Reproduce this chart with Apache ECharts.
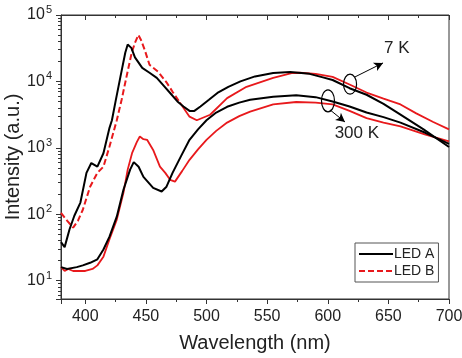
<!DOCTYPE html>
<html>
<head>
<meta charset="utf-8">
<script src="https://cdn.jsdelivr.net/npm/echarts@6/dist/echarts.min.js"></script>
<style>
  html, body { margin: 0; padding: 0; background: #fff; }
  #chart { width: 462px; height: 358px; }
</style>
</head>
<body>
<div id="chart"></div>
<script>
// [wavelength (nm), intensity (a.u.)]
const ledA7K = [
  [380, 38], [383, 32], [387, 59], [391, 95], [396, 150], [401, 420], [405, 590], [410, 520],
  [415, 830], [420, 2000], [422, 2600], [425, 5000], [429, 11700], [433, 27000], [435, 36000],
  [438, 32000], [441, 23000], [447, 16000], [453, 13500], [459, 11300], [465, 8500], [470, 6700],
  [476, 5000], [481, 4200], [486, 3600], [490, 3600], [495, 4200], [502, 5300], [509, 6700],
  [518, 8300], [528, 10000], [540, 11900], [555, 13400], [569, 13900], [585, 13000], [596, 11500],
  [604, 10500], [618, 7900], [632, 6300], [646, 4600], [660, 3160], [679, 1900], [700, 1030]
];
const ledA300K = [
  [380, 16], [385, 15], [393, 16], [398, 17], [404, 18.6], [410, 21], [415, 29.5], [420, 46],
  [426, 92], [431.5, 234], [437, 470], [440, 610], [444, 520], [448, 365], [456, 250], [463, 220],
  [467, 260], [472, 420], [479, 750], [486, 1320], [493, 1900], [500, 2600], [508, 3400],
  [517, 4150], [527, 4800], [536, 5300], [555, 5900], [574, 6200], [590, 5800], [604, 5000],
  [618, 4200], [632, 3400], [646, 2900], [660, 2400], [680, 1700], [700, 1150]
];
const ledB7K = [
  [380, 105], [385, 80], [390, 63], [394, 80], [398, 117], [404, 260], [410, 420], [415, 520],
  [420, 1050], [426, 2600], [430, 5300], [434, 11700], [438.3, 27000], [441, 38000], [443.8, 50000],
  [446, 42000], [449, 30000], [453, 17800], [460, 14000], [467, 9700], [472, 7000], [478, 4800]
];
const ledB7KTail = [
  [478, 4800], [486, 2950], [492, 2600], [503, 3150], [517, 5600], [533, 8300], [555, 11300],
  [571, 13400], [577, 13500], [590, 13000], [604, 11700], [618, 9000], [632, 6800], [646, 5500],
  [660, 4500], [673, 3300], [687, 2450], [700, 1900]
];
const ledB300K = [
  [380, 16], [383, 14], [386, 15], [390, 14], [395, 14], [400, 14], [406, 15], [410, 17],
  [415, 23], [420, 42], [426, 83], [431.5, 210], [435, 470], [438.6, 830], [442.6, 1230],
  [445, 1480], [448, 1350], [451, 1320], [456, 930], [461.6, 520], [466, 420], [470, 330],
  [474, 310], [480, 450], [486, 660], [493, 950], [500, 1320], [508, 1800], [517, 2400],
  [527, 3000], [536, 3500], [555, 4500], [574, 4900], [590, 4800], [604, 4500], [618, 3600],
  [632, 2800], [646, 2400], [660, 2100], [680, 1600], [700, 1250]
];
const legendNames = ['LED A', 'LED B'];

// annotation anchors in data coordinates
const ring7K = [618.4, 9100];
const arrow7K = [[622.5, 11700], [645.6, 19000]];
const text7K = [657, 31900];
const ring300K = [600.2, 5100];
const arrow300K = [[601.9, 3730], [614.2, 2450]];
const text300K = [624, 1680];

const FONT = 'Liberation Sans, Arial, sans-serif';
const BLACK = '#000000';
const RED = '#e8191c';

const chart = echarts.init(document.getElementById('chart'));

function powLabel(v) {
  const e = Math.log10(v);
  if (Math.abs(e - Math.round(e)) > 1e-6 || Math.round(e) < 1) return '';
  return '10{sup|' + Math.round(e) + '}';
}

const option = {
  animation: false,
  backgroundColor: '#ffffff',
  grid: {
    left: 61, right: 13, top: 15, bottom: 59,
    outerBoundsMode: 'none', containLabel: false,
    show: true, borderColor: '#333', borderWidth: 1
  },
  legend: {
    data: legendNames,
    orient: 'vertical',
    left: 355, top: 243,
    itemWidth: 34, itemHeight: 12, itemGap: 3,
    padding: [4, 4, 4, 3],
    borderColor: '#555', borderWidth: 1, borderRadius: 0,
    itemStyle: { opacity: 0, borderWidth: 0 },
    textStyle: { fontFamily: FONT, fontSize: 14, color: '#222', padding: [0, 0, 0, -4] }
  },
  xAxis: [
    {
      type: 'value', min: 380, max: 700, splitNumber: 6,
      name: 'Wavelength (nm)', nameLocation: 'middle', nameGap: 34,
      nameTextStyle: { fontFamily: FONT, fontSize: 20, color: '#222' },
      axisLine: { show: true, lineStyle: { color: '#333', width: 1 } },
      axisTick: { show: true, length: 5, lineStyle: { color: '#333' } },
      minorTick: { show: true, splitNumber: 2, length: 3, lineStyle: { color: '#333' } },
      axisLabel: { fontFamily: FONT, fontSize: 16, color: '#222', margin: 10, showMinLabel: false },
      splitLine: { show: false }
    },
    {
      type: 'value', min: 380, max: 700, splitNumber: 6, position: 'top',
      axisLine: { show: true, lineStyle: { color: '#333', width: 1 } },
      axisTick: { show: true, inside: true, length: 5, lineStyle: { color: '#333' } },
      minorTick: { show: true, splitNumber: 2, length: 3, lineStyle: { color: '#333' } },
      axisLabel: { show: false },
      splitLine: { show: false }
    }
  ],
  yAxis: {
    type: 'log', logBase: 10, min: 5.3, max: 100000,
    name: 'Intensity (a.u.)', nameLocation: 'middle', nameGap: 38, nameMoveOverlap: false,
    nameTextStyle: { fontFamily: FONT, fontSize: 20, color: '#222' },
    axisLine: { show: true, lineStyle: { color: '#333', width: 1 } },
    axisTick: { show: true, length: 5, lineStyle: { color: '#333' } },
    minorTick: { show: true, splitNumber: 9, length: 3, lineStyle: { color: '#333' } },
    axisLabel: {
      fontFamily: FONT, fontSize: 16, color: '#222', margin: 9,
      formatter: powLabel,
      rich: { sup: { fontFamily: FONT, fontSize: 11, color: '#222', verticalAlign: 'top', padding: [0, 0, 10, 1] } }
    },
    splitLine: { show: false }
  },
  series: [
    {
      name: 'LED A', type: 'line', data: ledA7K, symbol: 'none',
      lineStyle: { color: BLACK, width: 2 }, itemStyle: { color: BLACK }, z: 3,
      markLine: {
        silent: true, symbol: ['none', 'arrow'], symbolSize: [7, 9], animation: false,
        label: { show: false },
        lineStyle: { color: BLACK, width: 1, type: 'solid' },
        data: [
          [{ coord: arrow7K[0] }, { coord: arrow7K[1] }],
          [{ coord: arrow300K[0] }, { coord: arrow300K[1] }]
        ]
      }
    },
    {
      name: 'LED A', type: 'line', data: ledA300K, symbol: 'none',
      lineStyle: { color: BLACK, width: 2 }, itemStyle: { color: BLACK }, z: 3
    },
    {
      name: 'LED B', type: 'line', data: ledB7K, symbol: 'none',
      lineStyle: { color: RED, width: 2, type: [6, 3] }, itemStyle: { color: RED }, z: 2
    },
    {
      name: 'LED B', type: 'line', data: ledB7KTail, symbol: 'none',
      lineStyle: { color: RED, width: 1.8 }, itemStyle: { color: RED }, z: 2
    },
    {
      name: 'LED B', type: 'line', data: ledB300K, symbol: 'none',
      lineStyle: { color: RED, width: 1.8 }, itemStyle: { color: RED }, z: 2
    }
  ]
};

chart.setOption(option);

function px(p) {
  return chart.convertToPixel({ xAxisIndex: 0, yAxisIndex: 0 }, p);
}

const r7 = px(ring7K), r300 = px(ring300K), t7 = px(text7K), t300 = px(text300K);
chart.setOption({
  graphic: [
    { type: 'ellipse', shape: { cx: r7[0], cy: r7[1], rx: 6.5, ry: 10 },
      style: { fill: 'none', stroke: BLACK, lineWidth: 1.2 }, z: 10 },
    { type: 'ellipse', shape: { cx: r300[0], cy: r300[1], rx: 6.5, ry: 11 },
      style: { fill: 'none', stroke: BLACK, lineWidth: 1.2 }, z: 10 },
    { type: 'text', x: t7[0], y: t7[1],
      style: { text: '7 K', font: '17px ' + FONT, fill: '#222', align: 'center', verticalAlign: 'middle' }, z: 10 },
    { type: 'text', x: t300[0], y: t300[1],
      style: { text: '300 K', font: '17px ' + FONT, fill: '#222', align: 'center', verticalAlign: 'middle' }, z: 10 }
  ]
});

window.addEventListener('resize', () => chart.resize());
</script>
</body>
</html>
